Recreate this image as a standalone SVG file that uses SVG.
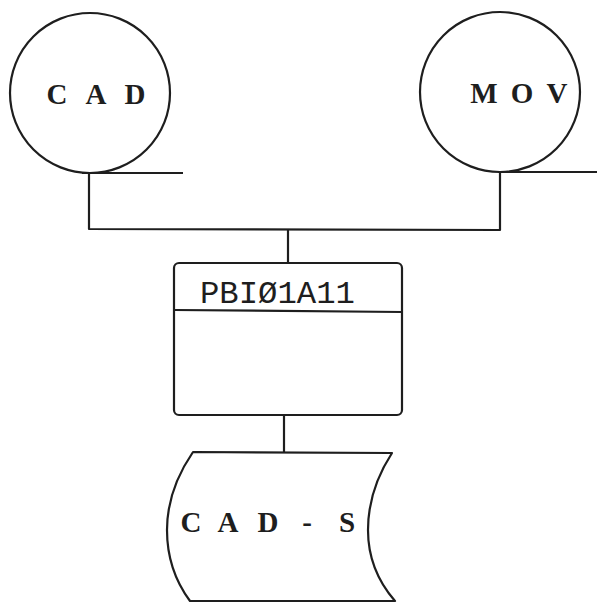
<svg xmlns="http://www.w3.org/2000/svg" width="597" height="603" viewBox="0 0 597 603">
  <style>
    .ln { fill: none; stroke: #1e1e1e; stroke-width: 2.2; stroke-linejoin: round; }
    .shape { fill: #ffffff; stroke: #1e1e1e; stroke-width: 2.2; stroke-linejoin: round; }
    .lbl { font-family: "Liberation Serif", "Times New Roman", serif; font-weight: bold; font-size: 29px; fill: #1e1e1e; text-anchor: middle; }
    .proc { font-family: "Liberation Mono", "Courier New", monospace; font-size: 31px; fill: #1e1e1e; }
  </style>
  <rect width="597" height="603" fill="#ffffff"/>

  <g id="connectors">
    <polyline class="ln" points="89,173 89,229 500,230 500,172"/>
    <line class="ln" x1="288" y1="229" x2="288" y2="263"/>
    <line class="ln" x1="284" y1="415" x2="284" y2="452"/>
  </g>

  <!-- magnetic tape: CAD -->
  <g id="tape-cad">
    <circle class="shape" cx="90" cy="93" r="80"/>
    <line class="ln" x1="82" y1="173" x2="183" y2="173"/>
    <text class="lbl" x="57 96 135" y="104">CAD</text>
  </g>

  <!-- magnetic tape: MOV -->
  <g id="tape-mov">
    <circle class="shape" cx="500" cy="92" r="80"/>
    <line class="ln" x1="498" y1="172" x2="597" y2="172"/>
    <text class="lbl" x="484 522 557" y="103">MOV</text>
  </g>

  <!-- program -->
  <g id="program">
    <rect class="shape" x="174" y="263" width="228" height="152" rx="5"/>
    <line class="ln" x1="174" y1="310" x2="402" y2="312"/>
    <text class="proc" x="200" y="303" textLength="155" lengthAdjust="spacingAndGlyphs">PBIØ1A11</text>
  </g>

  <!-- output file -->
  <g id="file-cad-s">
    <path class="shape" d="M193,452 L392,453 Q368,490 368,530 Q368,570 395,601 L190,601 Q167,570 167,530 Q167,490 193,452 Z"/>
    <text class="lbl" x="191 228 268 307 347" y="532">CAD-S</text>
  </g>
</svg>
